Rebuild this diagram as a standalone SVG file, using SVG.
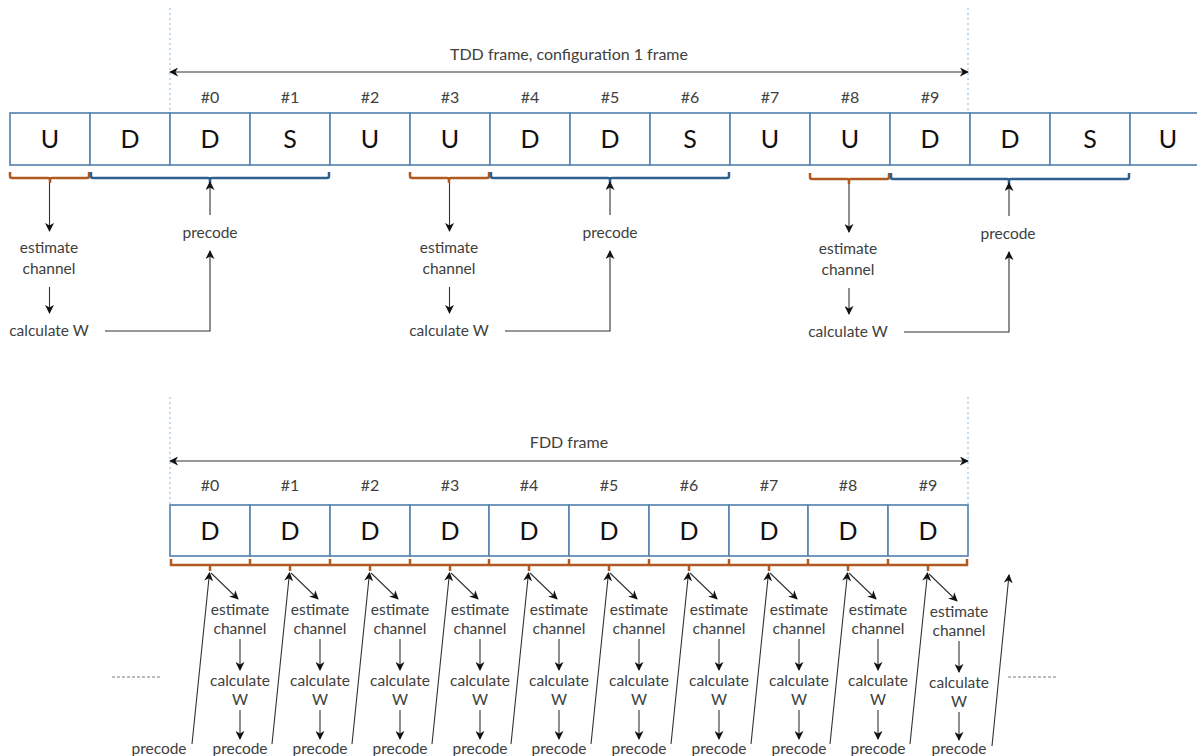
<svg xmlns="http://www.w3.org/2000/svg" width="1197" height="756" viewBox="0 0 1197 756">
<defs>
<marker id="ah" viewBox="0 0 10 10" refX="9" refY="5" markerWidth="9" markerHeight="9" markerUnits="userSpaceOnUse" orient="auto">
<path d="M0,0 L10,5 L0,10 L3,5 Z" fill="#111"/>
</marker>
<marker id="ahs" viewBox="0 0 10 10" refX="1" refY="5" markerWidth="9" markerHeight="9" markerUnits="userSpaceOnUse" orient="auto">
<path d="M10,0 L0,5 L10,10 L7,5 Z" fill="#111"/>
</marker>
<style>
text{font-family:Lato,"Open Sans","Liberation Sans",sans-serif;fill:#404040;text-anchor:middle}
.lbl{font-size:15.5px}
.num{font-size:16px}
.big{font-size:25px;fill:#111}
.box{fill:#fff;stroke:#5a86b0;stroke-width:1.7}
.ln{stroke:#333;stroke-width:1.1;fill:none}
.arr{stroke:#333;stroke-width:1.1;fill:none;marker-end:url(#ah)}
.dot{stroke:#9cc3e6;stroke-width:1.2;stroke-dasharray:2 3;fill:none}
.dash{stroke:#777;stroke-width:1;stroke-dasharray:3 2;fill:none}
.br{stroke:#b05a22;stroke-width:2.5;fill:none}
.bb{stroke:#2f5f8f;stroke-width:2.5;fill:none}
</style>
</defs>

<g id="tdd-frame">
<line class="dot" x1="170" y1="8" x2="170" y2="113"/>
<line class="dot" x1="968" y1="8" x2="968" y2="113"/>
<line class="ln" x1="170" y1="72" x2="968" y2="72" style="marker-start:url(#ahs);marker-end:url(#ah)"/>
<text class="num" x="569" y="60">TDD frame, configuration 1 frame</text>
</g>

<g id="tdd-subframes">
<rect class="box" x="10" y="113" width="80" height="52"/><text class="big" x="50" y="148">U</text>
<rect class="box" x="90" y="113" width="80" height="52"/><text class="big" x="130" y="148">D</text>
<rect class="box" x="170" y="113" width="80" height="52"/><text class="big" x="210" y="148">D</text>
<rect class="box" x="250" y="113" width="80" height="52"/><text class="big" x="290" y="148">S</text>
<rect class="box" x="330" y="113" width="80" height="52"/><text class="big" x="370" y="148">U</text>
<rect class="box" x="410" y="113" width="80" height="52"/><text class="big" x="450" y="148">U</text>
<rect class="box" x="490" y="113" width="80" height="52"/><text class="big" x="530" y="148">D</text>
<rect class="box" x="570" y="113" width="80" height="52"/><text class="big" x="610" y="148">D</text>
<rect class="box" x="650" y="113" width="80" height="52"/><text class="big" x="690" y="148">S</text>
<rect class="box" x="730" y="113" width="80" height="52"/><text class="big" x="770" y="148">U</text>
<rect class="box" x="810" y="113" width="80" height="52"/><text class="big" x="850" y="148">U</text>
<rect class="box" x="890" y="113" width="80" height="52"/><text class="big" x="930" y="148">D</text>
<rect class="box" x="970" y="113" width="80" height="52"/><text class="big" x="1010" y="148">D</text>
<rect class="box" x="1050" y="113" width="80" height="52"/><text class="big" x="1090" y="148">S</text>
<rect class="box" x="1130" y="113" width="80" height="52"/><text class="big" x="1168" y="148">U</text>
<text class="num" x="210" y="103">#0</text>
<text class="num" x="290" y="103">#1</text>
<text class="num" x="370" y="103">#2</text>
<text class="num" x="450" y="103">#3</text>
<text class="num" x="530" y="103">#4</text>
<text class="num" x="610" y="103">#5</text>
<text class="num" x="690" y="103">#6</text>
<text class="num" x="770" y="103">#7</text>
<text class="num" x="850" y="103">#8</text>
<text class="num" x="930" y="103">#9</text>
</g>

<g id="tdd-braces">
<path class="br" d="M10,172 V176 Q10,178 12,178 H48 Q50,178 50,180 V183 M50,180 Q50,178 52,178 H87 Q89,178 89,176 V172"/>
<path class="bb" d="M91,172 V176 Q91,178 93,178 H208 Q210,178 210,180 V183 M210,180 Q210,178 212,178 H327 Q329,178 329,176 V172"/>
<path class="br" d="M410,172 V176 Q410,178 412,178 H447 Q449,178 449,180 V183 M449,180 Q449,178 451,178 H487 Q489,178 489,176 V172"/>
<path class="bb" d="M491,172 V176 Q491,178 493,178 H608 Q610,178 610,180 V183 M610,180 Q610,178 612,178 H727 Q729,178 729,176 V172"/>
<path class="br" d="M810,173 V177 Q810,179 812,179 H847 Q849,179 849,181 V184 M849,181 Q849,179 851,179 H887 Q889,179 889,177 V173"/>
<path class="bb" d="M891,173 V177 Q891,179 893,179 H1007 Q1009,179 1009,181 V184 M1009,181 Q1009,179 1011,179 H1127 Q1129,179 1129,177 V173"/>
</g>

<g id="tdd-group1">
<text class="lbl" x="49" y="253">estimate</text>
<text class="lbl" x="49" y="274">channel</text>
<text class="lbl" x="49" y="336">calculate W</text>
<text class="lbl" x="210" y="238">precode</text>
</g>
<g id="tdd-group2">
<text class="lbl" x="449" y="253">estimate</text>
<text class="lbl" x="449" y="274">channel</text>
<text class="lbl" x="449" y="336">calculate W</text>
<text class="lbl" x="610" y="238">precode</text>
</g>
<g id="tdd-group3">
<text class="lbl" x="848" y="254">estimate</text>
<text class="lbl" x="848" y="275">channel</text>
<text class="lbl" x="848" y="337">calculate W</text>
<text class="lbl" x="1008" y="239">precode</text>
</g>

<g id="tdd-connectors">
<line class="arr" x1="49.5" y1="183" x2="49.5" y2="231"/>
<line class="arr" x1="49.5" y1="287" x2="49.5" y2="313"/>
<polyline class="arr" points="105,331 210,331 210,251"/>
<line class="arr" x1="210" y1="215" x2="210" y2="182"/>
<line class="arr" x1="449.5" y1="183" x2="449.5" y2="231"/>
<line class="arr" x1="449.5" y1="287" x2="449.5" y2="313"/>
<polyline class="arr" points="505,331 610,331 610,251"/>
<line class="arr" x1="610" y1="215" x2="610" y2="182"/>
<line class="arr" x1="849" y1="184" x2="849" y2="232"/>
<line class="arr" x1="849" y1="288" x2="849" y2="314"/>
<polyline class="arr" points="904,332 1009,332 1009,252"/>
<line class="arr" x1="1009" y1="216" x2="1009" y2="183"/>
</g>

<g id="fdd-frame">
<line class="dot" x1="170" y1="397" x2="170" y2="505"/>
<line class="dot" x1="968" y1="397" x2="968" y2="505"/>
<line class="ln" x1="170" y1="461" x2="968" y2="461" style="marker-start:url(#ahs);marker-end:url(#ah)"/>
<text class="num" x="569" y="448">FDD frame</text>
</g>

<g id="fdd-subframes">
<rect class="box" x="170" y="505" width="80" height="51"/><text class="big" x="210" y="540">D</text>
<rect class="box" x="250" y="505" width="80" height="51"/><text class="big" x="290" y="540">D</text>
<rect class="box" x="330" y="505" width="80" height="51"/><text class="big" x="370" y="540">D</text>
<rect class="box" x="410" y="505" width="79" height="51"/><text class="big" x="450" y="540">D</text>
<rect class="box" x="489" y="505" width="80" height="51"/><text class="big" x="529" y="540">D</text>
<rect class="box" x="569" y="505" width="80" height="51"/><text class="big" x="609" y="540">D</text>
<rect class="box" x="649" y="505" width="80" height="51"/><text class="big" x="689" y="540">D</text>
<rect class="box" x="729" y="505" width="79" height="51"/><text class="big" x="769" y="540">D</text>
<rect class="box" x="808" y="505" width="80" height="51"/><text class="big" x="848" y="540">D</text>
<rect class="box" x="888" y="505" width="80" height="51"/><text class="big" x="928" y="540">D</text>
<text class="num" x="210" y="491">#0</text>
<text class="num" x="290" y="491">#1</text>
<text class="num" x="370" y="491">#2</text>
<text class="num" x="450" y="491">#3</text>
<text class="num" x="529" y="491">#4</text>
<text class="num" x="609" y="491">#5</text>
<text class="num" x="689" y="491">#6</text>
<text class="num" x="769" y="491">#7</text>
<text class="num" x="848" y="491">#8</text>
<text class="num" x="928" y="491">#9</text>
</g>

<g id="fdd-braces">
<path class="br" d="M171,559 V565 H967 V559 M250,565 V559 M330,565 V559 M410,565 V559 M489,565 V559 M569,565 V559 M649,565 V559 M729,565 V559 M808,565 V559 M888,565 V559 M210,565 V571 M290,565 V571 M370,565 V571 M450,565 V571 M529,565 V571 M609,565 V571 M689,565 V571 M769,565 V571 M848,565 V571 M928,565 V571"/>
</g>

<g id="fdd-labels">
<text class="lbl" x="159" y="754">precode</text>
<text class="lbl" x="240" y="615">estimate</text><text class="lbl" x="240" y="634">channel</text><text class="lbl" x="240" y="686">calculate</text><text class="lbl" x="240" y="705">W</text><text class="lbl" x="240" y="754">precode</text>
<text class="lbl" x="320" y="615">estimate</text><text class="lbl" x="320" y="634">channel</text><text class="lbl" x="320" y="686">calculate</text><text class="lbl" x="320" y="705">W</text><text class="lbl" x="320" y="754">precode</text>
<text class="lbl" x="400" y="615">estimate</text><text class="lbl" x="400" y="634">channel</text><text class="lbl" x="400" y="686">calculate</text><text class="lbl" x="400" y="705">W</text><text class="lbl" x="400" y="754">precode</text>
<text class="lbl" x="480" y="615">estimate</text><text class="lbl" x="480" y="634">channel</text><text class="lbl" x="480" y="686">calculate</text><text class="lbl" x="480" y="705">W</text><text class="lbl" x="480" y="754">precode</text>
<text class="lbl" x="559" y="615">estimate</text><text class="lbl" x="559" y="634">channel</text><text class="lbl" x="559" y="686">calculate</text><text class="lbl" x="559" y="705">W</text><text class="lbl" x="559" y="754">precode</text>
<text class="lbl" x="639" y="615">estimate</text><text class="lbl" x="639" y="634">channel</text><text class="lbl" x="639" y="686">calculate</text><text class="lbl" x="639" y="705">W</text><text class="lbl" x="639" y="754">precode</text>
<text class="lbl" x="719" y="615">estimate</text><text class="lbl" x="719" y="634">channel</text><text class="lbl" x="719" y="686">calculate</text><text class="lbl" x="719" y="705">W</text><text class="lbl" x="719" y="754">precode</text>
<text class="lbl" x="799" y="615">estimate</text><text class="lbl" x="799" y="634">channel</text><text class="lbl" x="799" y="686">calculate</text><text class="lbl" x="799" y="705">W</text><text class="lbl" x="799" y="754">precode</text>
<text class="lbl" x="878" y="615">estimate</text><text class="lbl" x="878" y="634">channel</text><text class="lbl" x="878" y="686">calculate</text><text class="lbl" x="878" y="705">W</text><text class="lbl" x="878" y="754">precode</text>
<text class="lbl" x="959" y="617">estimate</text><text class="lbl" x="959" y="636">channel</text><text class="lbl" x="959" y="688">calculate</text><text class="lbl" x="959" y="707">W</text><text class="lbl" x="959" y="754">precode</text>
</g>

<g id="fdd-connectors">
<line class="dash" x1="112" y1="677" x2="162" y2="677"/>
<line class="dash" x1="1008" y1="677" x2="1058" y2="677"/>
<line class="arr" x1="192" y1="744" x2="209.5" y2="573"/>
<line class="arr" x1="272" y1="744" x2="289.5" y2="573"/>
<line class="arr" x1="352" y1="744" x2="369.5" y2="573"/>
<line class="arr" x1="432" y1="744" x2="449.5" y2="573"/>
<line class="arr" x1="511" y1="744" x2="528.5" y2="573"/>
<line class="arr" x1="591" y1="744" x2="608.5" y2="573"/>
<line class="arr" x1="671" y1="744" x2="688.5" y2="573"/>
<line class="arr" x1="751" y1="744" x2="768.5" y2="573"/>
<line class="arr" x1="830" y1="744" x2="847.5" y2="573"/>
<line class="arr" x1="910" y1="744" x2="927.5" y2="573"/>
<line class="arr" x1="992" y1="746" x2="1009" y2="575"/>
<line class="arr" x1="211" y1="573" x2="238" y2="599"/>
<line class="arr" x1="291" y1="573" x2="318" y2="599"/>
<line class="arr" x1="371" y1="573" x2="398" y2="599"/>
<line class="arr" x1="451" y1="573" x2="478" y2="599"/>
<line class="arr" x1="530" y1="573" x2="557" y2="599"/>
<line class="arr" x1="610" y1="573" x2="637" y2="599"/>
<line class="arr" x1="690" y1="573" x2="717" y2="599"/>
<line class="arr" x1="770" y1="573" x2="797" y2="599"/>
<line class="arr" x1="849" y1="573" x2="876" y2="599"/>
<line class="arr" x1="929" y1="574" x2="957" y2="601"/>
<line class="arr" x1="240" y1="639" x2="240" y2="670"/>
<line class="arr" x1="320" y1="639" x2="320" y2="670"/>
<line class="arr" x1="400" y1="639" x2="400" y2="670"/>
<line class="arr" x1="480" y1="639" x2="480" y2="670"/>
<line class="arr" x1="559" y1="639" x2="559" y2="670"/>
<line class="arr" x1="639" y1="639" x2="639" y2="670"/>
<line class="arr" x1="719" y1="639" x2="719" y2="670"/>
<line class="arr" x1="799" y1="639" x2="799" y2="670"/>
<line class="arr" x1="878" y1="639" x2="878" y2="670"/>
<line class="arr" x1="959" y1="641" x2="959" y2="672"/>
<line class="arr" x1="240" y1="710" x2="240" y2="739"/>
<line class="arr" x1="320" y1="710" x2="320" y2="739"/>
<line class="arr" x1="400" y1="710" x2="400" y2="739"/>
<line class="arr" x1="480" y1="710" x2="480" y2="739"/>
<line class="arr" x1="559" y1="710" x2="559" y2="739"/>
<line class="arr" x1="639" y1="710" x2="639" y2="739"/>
<line class="arr" x1="719" y1="710" x2="719" y2="739"/>
<line class="arr" x1="799" y1="710" x2="799" y2="739"/>
<line class="arr" x1="878" y1="710" x2="878" y2="739"/>
<line class="arr" x1="959" y1="712" x2="959" y2="740"/>
</g>
</svg>
